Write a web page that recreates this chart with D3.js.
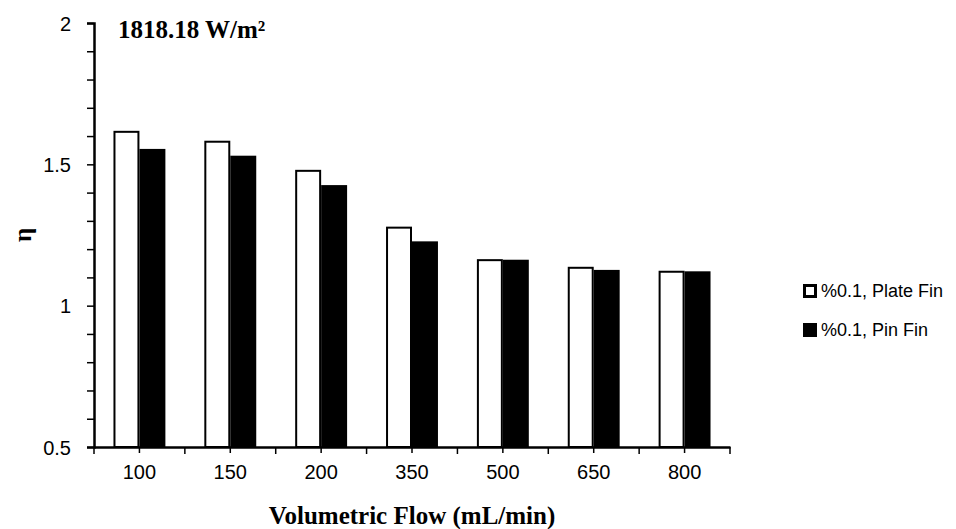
<!DOCTYPE html>
<html>
<head>
<meta charset="utf-8">
<script src="https://cdn.jsdelivr.net/npm/d3@7"></script>
<style>
  html, body { margin: 0; padding: 0; background: #fff; }
  #chart { width: 956px; height: 529px; }
  .tick text { font-family: "Liberation Sans", Arial, sans-serif; font-size: 20px; fill: #000; }
</style>
</head>
<body>
<div id="chart"></div>
<script>
const categories = ["100", "150", "200", "350", "500", "650", "800"];
const seriesNames = ["%0.1, Plate Fin", "%0.1, Pin Fin"];
const plateFin = [1.615, 1.58, 1.477, 1.276, 1.161, 1.134, 1.12];
const pinFin = [1.551, 1.527, 1.423, 1.224, 1.159, 1.123, 1.118];
const yTicks = [0.5, 0.6, 0.7, 0.8, 0.9, 1, 1.1, 1.2, 1.3, 1.4, 1.5, 1.6, 1.7, 1.8, 1.9, 2];
const yLabels = [0.5, 1, 1.5, 2];

const width = 956;
const height = 529;
const margin = { left: 94, right: 226, top: 23, bottom: 82 };

const svg = d3.select("#chart").append("svg")
  .attr("width", width)
  .attr("height", height);

const x0 = d3.scaleBand()
  .domain(categories)
  .range([margin.left, width - margin.right])
  .padding(0);

const x1 = d3.scaleBand()
  .domain(seriesNames)
  .range([0, x0.bandwidth()])
  .paddingInner(0)
  .paddingOuter(0.75);

const y = d3.scaleLinear()
  .domain([0.5, 2])
  .range([height - margin.bottom, margin.top]);

const fills = ["#fff", "#000"];

const rows = categories.map((c, i) => ({ cat: c, vals: [plateFin[i], pinFin[i]] }));

// bars
const groups = svg.append("g").selectAll("g")
  .data(rows)
  .enter()
  .append("g")
  .attr("transform", (d) => `translate(${x0(d.cat)},0)`);

groups.selectAll("rect")
  .data((d) => d.vals.map((v, j) => ({ v, j })))
  .enter()
  .append("rect")
  .attr("x", (d) => x1(seriesNames[d.j]) + 1)
  .attr("y", (d) => y(d.v))
  .attr("width", x1.bandwidth() - 2)
  .attr("height", (d) => y(0.5) - y(d.v))
  .attr("fill", (d) => fills[d.j])
  .attr("stroke", "#000")
  .attr("stroke-width", 2);

// y axis
const yAxis = d3.axisLeft(y)
  .tickValues(yTicks)
  .tickSize(7)
  .tickPadding(16)
  .tickFormat((d) => (yLabels.some((l) => Math.abs(l - d) < 1e-9) ? d3.format("")(+d.toFixed(1)) : ""));

const gy = svg.append("g")
  .attr("transform", `translate(${margin.left},0)`)
  .call(yAxis);
gy.select(".domain").attr("stroke", "#000").attr("stroke-width", 2.5);
gy.selectAll(".tick line").attr("stroke", "#000").attr("stroke-width", 1.5);
gy.selectAll(".tick text").attr("dy", "0.35em");

// x axis
const xAxis = d3.axisBottom(x0).tickSize(6).tickSizeOuter(0).tickPadding(12);
const gx = svg.append("g")
  .attr("transform", `translate(0,${height - margin.bottom})`)
  .call(xAxis);
gx.select(".domain").attr("stroke", "#000").attr("stroke-width", 2.5);
gx.selectAll(".tick line").attr("stroke", "#000").attr("stroke-width", 1.5);

// category boundary ticks
const bounds = categories.map((c) => x0(c)).concat([x0.range()[1]]);
gx.selectAll(".bound")
  .data(bounds)
  .enter()
  .append("line")
  .attr("class", "bound")
  .attr("x1", (d) => d)
  .attr("x2", (d) => d)
  .attr("y1", 0)
  .attr("y2", 7)
  .attr("stroke", "#000")
  .attr("stroke-width", 1.5);

// titles
svg.append("text")
  .attr("x", 118)
  .attr("y", 38)
  .attr("font-family", "'Liberation Serif', 'Times New Roman', serif")
  .attr("font-weight", "bold")
  .attr("font-size", 25)
  .text("1818.18 W/m²");

svg.append("text")
  .attr("x", (x0.range()[0] + x0.range()[1]) / 2)
  .attr("y", 524)
  .attr("text-anchor", "middle")
  .attr("font-family", "'Liberation Serif', 'Times New Roman', serif")
  .attr("font-weight", "bold")
  .attr("font-size", 25)
  .text("Volumetric Flow (mL/min)");

svg.append("text")
  .attr("transform", `translate(31,${(y(0.5) + y(2)) / 2}) rotate(-90)`)
  .attr("text-anchor", "middle")
  .attr("font-family", "'Liberation Serif', 'Times New Roman', serif")
  .attr("font-weight", "bold")
  .attr("font-size", 25)
  .text("η");

// legend
const legend = svg.append("g").attr("transform", "translate(803,284)");
const items = legend.selectAll("g")
  .data(seriesNames)
  .enter()
  .append("g")
  .attr("transform", (d, i) => `translate(0,${i * 39})`);

items.append("rect")
  .attr("x", 1.5)
  .attr("y", 1.5)
  .attr("width", 11)
  .attr("height", 11)
  .attr("fill", (d, i) => fills[i])
  .attr("stroke", "#000")
  .attr("stroke-width", 3);

items.append("text")
  .attr("x", 18)
  .attr("y", 7)
  .attr("dy", "0.35em")
  .attr("font-family", "'Liberation Sans', Arial, sans-serif")
  .attr("font-size", 18)
  .text((d) => d);
</script>
</body>
</html>
